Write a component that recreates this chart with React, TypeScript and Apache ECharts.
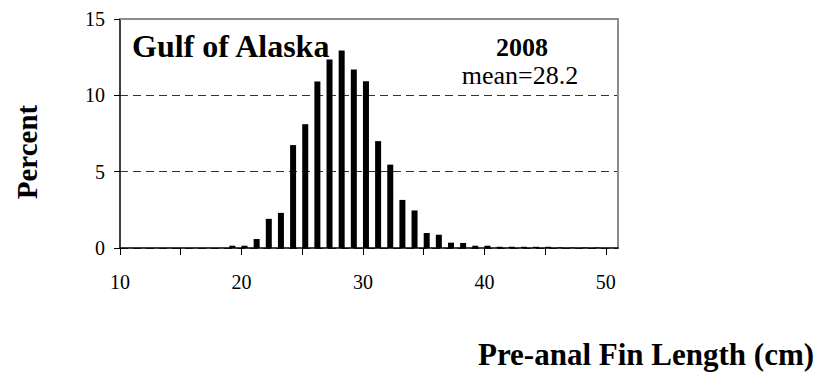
import React, { useEffect, useRef } from "react";
import * as echarts from "echarts";

// Pre-anal fin length (cm) bins and percent of fish in each bin
const lengths: number[] = [
  10, 11, 12, 13, 14, 15, 16, 17, 18, 19, 20, 21, 22, 23, 24, 25, 26, 27, 28, 29,
  30, 31, 32, 33, 34, 35, 36, 37, 38, 39, 40, 41, 42, 43, 44, 45, 46, 47, 48, 49,
];
const percents: number[] = [
  0, 0, 0, 0, 0, 0, 0, 0, 0, 0.15, 0.15, 0.59, 1.91, 2.3, 6.74, 8.11, 10.91, 12.35, 12.93, 11.7,
  10.93, 7.0, 5.46, 3.15, 2.46, 0.98, 0.87, 0.35, 0.33, 0.15, 0.15, 0.08, 0.08, 0.08, 0.08, 0.08, 0.04, 0.03, 0.03, 0.03,
];

const xTickValues: number[] = [10, 15, 20, 25, 30, 35, 40, 45, 50];
const xLabelValues: number[] = [10, 20, 30, 40, 50];
const yTickValues: number[] = [0, 5, 10, 15];

const regionName = "Gulf of Alaska";
const yearLabel = "2008";
const meanLabel = "mean=28.2";
const xTitle = "Pre-anal Fin Length (cm)";
const yTitle = "Percent";

const SERIF = "'Liberation Serif', 'Times New Roman', serif";

export default function App() {
  const ref = useRef<HTMLDivElement>(null);

  useEffect(() => {
    if (!ref.current) return;
    const chart = echarts.init(ref.current, undefined, { renderer: "svg" });

    const option: echarts.EChartsOption = {
      animation: false,
      backgroundColor: "#ffffff",
      grid: { left: 120, right: 205, top: 19, bottom: 126, containLabel: false },
      xAxis: [
        {
          type: "value",
          min: 10,
          max: 51,
          interval: 5,
          position: "bottom",
          axisLine: { show: true, lineStyle: { color: "#000", width: 1.5 } },
          axisTick: {
            show: true,
            inside: false,
            length: 7,
            customValues: xTickValues,
            lineStyle: { color: "#000", width: 1 },
          },
          axisLabel: {
            show: true,
            customValues: xLabelValues,
            margin: 24,
            color: "#000",
            fontFamily: SERIF,
            fontSize: 20,
          },
          splitLine: { show: false },
        },
        {
          // bar positioning axis: each bin is drawn slightly right of its tick
          type: "value",
          min: 9.75,
          max: 50.75,
          show: false,
        },
        {
          // top frame line
          type: "value",
          min: 10,
          max: 51,
          position: "top",
          axisLine: { show: true, lineStyle: { color: "#8c8c8c", width: 2 } },
          axisTick: { show: false },
          axisLabel: { show: false },
          splitLine: { show: false },
        },
      ],
      yAxis: [
        {
          type: "value",
          min: 0,
          max: 15,
          interval: 5,
          position: "left",
          axisLine: { show: true, lineStyle: { color: "#000", width: 1.5 } },
          axisTick: {
            show: true,
            inside: false,
            length: 6,
            customValues: yTickValues,
            lineStyle: { color: "#000", width: 1 },
          },
          axisLabel: {
            show: true,
            margin: 15,
            color: "#000",
            fontFamily: SERIF,
            fontSize: 20,
          },
          splitLine: {
            show: true,
            lineStyle: { color: "#333", width: 1, type: [8, 5] },
          },
        },
        {
          // right frame line
          type: "value",
          min: 0,
          max: 15,
          position: "right",
          axisLine: { show: true, lineStyle: { color: "#8c8c8c", width: 2 } },
          axisTick: { show: false },
          axisLabel: { show: false },
          splitLine: { show: false },
        },
      ],
      series: [
        {
          type: "bar",
          xAxisIndex: 1,
          yAxisIndex: 0,
          barWidth: 6,
          itemStyle: { color: "#000" },
          data: lengths.map((len, i) => [len, percents[i]]),
        },
      ],
      graphic: [
        {
          type: "text",
          x: 132,
          y: 46,
          style: {
            text: regionName,
            font: `bold 32px ${SERIF}`,
            fill: "#000",
            align: "left",
            verticalAlign: "middle",
          },
        },
        {
          type: "text",
          x: 522,
          y: 47,
          style: {
            text: yearLabel,
            font: `bold 26px ${SERIF}`,
            fill: "#000",
            align: "center",
            verticalAlign: "middle",
          },
        },
        {
          type: "text",
          x: 520,
          y: 75,
          style: {
            text: meanLabel,
            font: `normal 26px ${SERIF}`,
            fill: "#000",
            align: "center",
            verticalAlign: "middle",
          },
        },
        {
          type: "text",
          x: 646,
          y: 354,
          style: {
            text: xTitle,
            font: `bold 31px ${SERIF}`,
            fill: "#000",
            align: "center",
            verticalAlign: "middle",
          },
        },
        {
          type: "text",
          x: 27,
          y: 152,
          rotation: Math.PI / 2,
          style: {
            text: yTitle,
            font: `bold 29px ${SERIF}`,
            fill: "#000",
            align: "center",
            verticalAlign: "middle",
          },
        },
      ],
    };

    chart.setOption(option);
    return () => {
      chart.dispose();
    };
  }, []);

  return (
    <div
      ref={ref}
      style={{ position: "fixed", left: 0, top: 0, width: 823, height: 374, background: "#fff" }}
    />
  );
}
